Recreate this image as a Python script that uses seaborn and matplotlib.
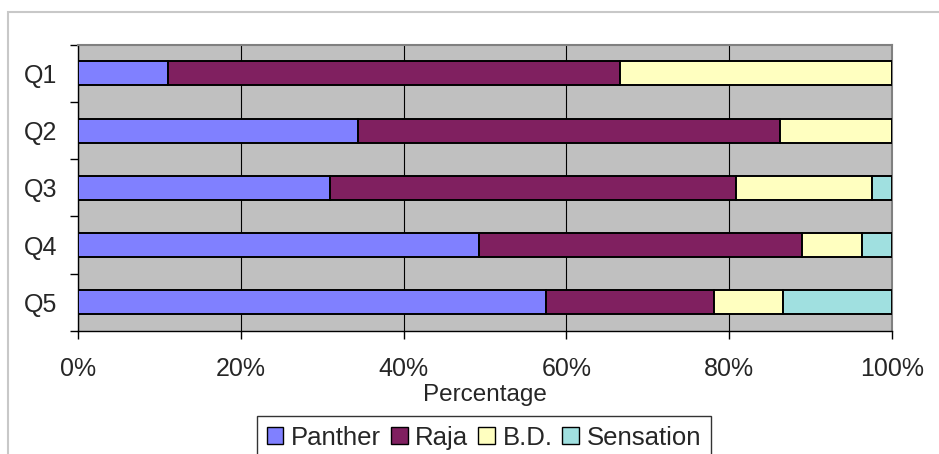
import numpy as np
import pandas as pd
import matplotlib
matplotlib.use("Agg")
import matplotlib.pyplot as plt
import seaborn as sns
from matplotlib.ticker import PercentFormatter, FixedLocator
from matplotlib.patches import Rectangle, Patch

# values (percent of answers)
questions = ['Q1', 'Q2', 'Q3', 'Q4', 'Q5']
brands = ['Panther', 'Raja', 'B.D.', 'Sensation']
panther = [11.0, 34.4, 31.0, 49.3, 57.5]
raja = [55.6, 51.8, 49.8, 39.6, 20.6]
bd = [33.4, 13.8, 16.7, 7.4, 8.5]
sensation = [0.0, 0.0, 2.5, 3.7, 13.4]
colors = ['#8080FF', '#802060', '#FFFFC0', '#A0E0E0']

sns.set_style('white')
plt.rcParams['font.family'] = ['Liberation Sans', 'DejaVu Sans']

fig = plt.figure(figsize=(9.39, 4.54), dpi=100)
ax = fig.add_axes([78/939, 1 - 331/454, 814/939, 286.3/454])

df = pd.DataFrame({'Question': questions, 'Panther': panther, 'Raja': raja,
                   'B.D.': bd, 'Sensation': sensation})

left = np.zeros(len(questions))
for name, col in zip(brands, colors):
    sns.barplot(data=df, y='Question', x=name, order=questions, orient='y',
                color=col, saturation=1, width=0.42, left=left,
                edgecolor='black', linewidth=1.4, ax=ax, zorder=3)
    left = left + df[name].values

ax.set_facecolor('#C0C0C0')
ax.set_xlim(0, 100)
ax.set_ylim(4.5, -0.5)
ax.set_xticks([0, 20, 40, 60, 80, 100])
ax.xaxis.set_major_formatter(PercentFormatter(decimals=0))
ax.grid(axis='x', color='black', linewidth=0.8)
ax.grid(axis='y', visible=False)
ax.set_axisbelow(True)

# category ticks between the bars, labels centered
ax.yaxis.set_minor_locator(FixedLocator(np.arange(-0.5, 5, 1)))
ax.tick_params(axis='y', which='major', length=0, pad=15, labelsize=18)
ax.tick_params(axis='y', which='minor', length=6, width=1, color='black', left=True)
ax.tick_params(axis='x', which='major', length=6, width=1, color='black',
               bottom=True, pad=13, labelsize=18)

ax.set_ylabel('')
ax.set_xlabel('Percentage', fontsize=17.5, labelpad=2)

for s in ['left', 'bottom']:
    ax.spines[s].set_color('black')
    ax.spines[s].set_linewidth(1)
for s in ['top', 'right']:
    ax.spines[s].set_color('#808080')
    ax.spines[s].set_linewidth(1.5)

handles = [Patch(facecolor=c, edgecolor='black', linewidth=1) for c in colors]
leg = fig.legend(handles, brands, loc='upper center', bbox_to_anchor=(484/939, 1 - 416/454),
                 ncol=4, frameon=True, fancybox=False, fontsize=18.5,
                 handlelength=0.65, handleheight=0.65, handletextpad=0.3,
                 columnspacing=0.38, borderpad=0.38, borderaxespad=0)
leg.get_frame().set_edgecolor('black')
leg.get_frame().set_linewidth(1)

# outer chart frame (cropped at right and bottom)
fig.patches.append(Rectangle((8/939, -0.1), 1.2, 1 - 12/454 + 0.1, transform=fig.transFigure,
                             fill=False, edgecolor='#C8C8C8', linewidth=1.5))

fig.savefig('out.png', dpi=100)
